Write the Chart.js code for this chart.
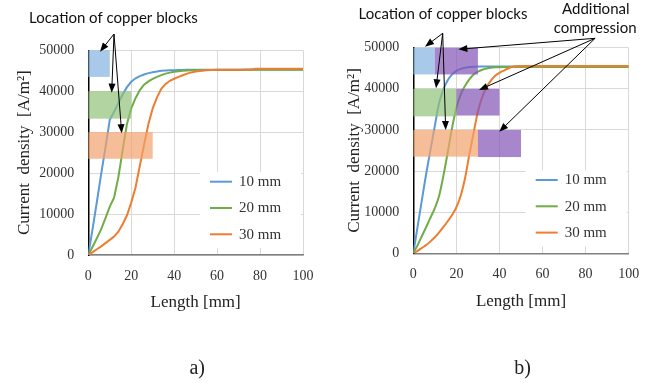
<!DOCTYPE html>
<html>
<head>
<meta charset="utf-8">
<script src="https://cdn.jsdelivr.net/npm/chart.js@4.4.1/dist/chart.umd.min.js"></script>
<style>
  body { margin: 0; background: #fff; }
  #wrap { position: relative; width: 661px; height: 383px; }
  canvas { position: absolute; top: 0; }
</style>
</head>
<body>
<div id="wrap">
  <canvas id="chartA" width="330" height="383" style="left:0"></canvas>
  <canvas id="chartB" width="331" height="383" style="left:330px"></canvas>
</div>
<script>
// --- data ---
const lengthMm = [0,2,4,6,8,10,12,14,16,18,20,22,24,26,28,30,32,34,36,38,40,42,44,46,48,50,55,60,70,76,78,90,100];

// a) copper blocks only
const a10 = [0,6400,13000,19800,26300,33000,35000,37100,39200,41000,42300,43150,43700,44100,44420,44650,44800,44980,45050,45100,45150,45180,45200,45220,45230,45240,45250,45260,45270,45280,45280,45290,45300];
const a20 = [0,2000,4100,6300,9000,11800,14000,19000,25600,32000,35800,38300,40300,41600,42400,43000,43500,43950,44300,44550,44750,44900,45000,45080,45130,45160,45190,45200,45210,45220,45220,45230,45240];
const a30 = [0,700,1400,2100,2900,3700,4500,5700,7500,9700,12800,16500,21800,27000,32000,35800,38500,40600,41800,42550,43050,43500,43900,44300,44600,44800,45100,45230,45240,45250,45470,45470,45480];

// b) copper blocks + additional compression
const b10 = [0,6500,13000,19400,25200,31000,36600,39900,42100,43500,44350,44850,45100,45300,45380,45400,45420,45430,45440,45440,45450,45450,45450,45450,45450,45450,45450,45450,45450,45450,45450,45450,45450];
const b20 = [0,2000,4200,6400,8700,11000,14000,18900,24600,30500,35400,38600,40700,42300,43500,44200,44650,44950,45150,45250,45270,45280,45280,45280,45280,45280,45280,45280,45280,45280,45280,45280,45280];
const b30 = [0,600,1300,2000,2900,3900,5100,6400,7800,9300,11200,14000,18200,24000,29300,34500,38000,40400,42000,43200,43900,44450,44950,45350,45500,45550,45560,45570,45570,45570,45570,45570,45570];

const seriesLabels = ['10 mm', '20 mm', '30 mm'];
const seriesColors = ['#5B9BD5', '#70AD47', '#ED7D31'];

// blocks: [x from, x to, y from, y to]
const copperBlocks = [[0,10,43500,50000],[0,20,33300,40000],[0,30,23500,30000]];
const compressionBlocks = [[10,30,43500,50000],[20,40,33500,40000],[30,50,23400,30000]];
const copperColors = ['rgba(132,178,226,0.7)', 'rgba(146,194,119,0.7)', 'rgba(242,162,108,0.7)'];
const compressionColor = 'rgba(131,82,182,0.7)';

// annotation arrows, in data units: [from x, from y, to x, to y]
const copperArrowsA = [[11.97,53980,5.45,49660],[11.97,53980,10.9,39640],[11.97,53980,15.56,29730]];
const copperArrowsB = [[13.65,53500,5.43,50240],[13.65,53500,10.54,40130],[13.65,53500,15.04,29990]];
const compressionArrowsB = [[84.4,52290,20.9,49610],[84.4,52290,30.5,39710],[84.4,52290,39.9,29570]];

const serif = '"Liberation Serif", "Times New Roman", serif';
const sans = 'Lato, "Liberation Sans", sans-serif';

function drawArrow(ctx, x1, y1, x2, y2) {
  const ang = Math.atan2(y2 - y1, x2 - x1);
  const L = 9, W = 3.5;
  const c = Math.cos(ang), s = Math.sin(ang);
  ctx.beginPath();
  ctx.moveTo(x1, y1);
  ctx.lineTo(x2 - L * 0.8 * c, y2 - L * 0.8 * s);
  ctx.stroke();
  ctx.beginPath();
  ctx.moveTo(x2, y2);
  ctx.lineTo(x2 - L * c + W * s, y2 - L * s - W * c);
  ctx.lineTo(x2 - L * c - W * s, y2 - L * s + W * c);
  ctx.closePath();
  ctx.fill();
}

function makeOverlay(opt) {
  return {
    id: 'overlay',
    beforeDatasetsDraw(chart) {
      // legend box inside the plot
      const { ctx, chartArea: a } = chart;
      ctx.save();
      ctx.fillStyle = '#fff';
      ctx.fillRect(a.right - 103, a.bottom - 83, 101, 76);
      ctx.font = '15px ' + serif;
      ctx.textBaseline = 'middle';
      ctx.textAlign = 'left';
      chart.data.datasets.forEach((ds, i) => {
        const y = a.bottom - 73.3 + i * 26.3;
        ctx.strokeStyle = ds.borderColor;
        ctx.lineWidth = 2;
        ctx.beginPath();
        ctx.moveTo(a.right - 93, y);
        ctx.lineTo(a.right - 71, y);
        ctx.stroke();
        ctx.fillStyle = '#333';
        ctx.fillText(ds.label, a.right - 64, y + 0.5);
      });
      ctx.restore();
    },
    afterDatasetsDraw(chart) {
      const { ctx } = chart;
      const xs = chart.scales.x, ys = chart.scales.y;
      const rect = (b, color) => {
        const x0 = xs.getPixelForValue(b[0]), x1 = xs.getPixelForValue(b[1]);
        const y0 = ys.getPixelForValue(b[2]), y1 = ys.getPixelForValue(b[3]);
        ctx.fillStyle = color;
        ctx.fillRect(x0, y1, x1 - x0, y0 - y1);
      };
      ctx.save();
      copperBlocks.forEach((b, i) => rect(b, copperColors[i]));
      if (opt.compression) compressionBlocks.forEach(b => rect(b, compressionColor));
      ctx.restore();
    },
    afterDraw(chart) {
      const { ctx, chartArea: a } = chart;
      const xs = chart.scales.x, ys = chart.scales.y;
      const px = v => xs.getPixelForValue(v), py = v => ys.getPixelForValue(v);
      ctx.save();
      ctx.strokeStyle = '#000';
      ctx.fillStyle = '#000';
      ctx.lineWidth = 1;
      opt.arrows.forEach(r => drawArrow(ctx, px(r[0]), py(r[1]), px(r[2]), py(r[3])));
      ctx.font = '15px ' + sans;
      ctx.textAlign = 'center';
      ctx.textBaseline = 'middle';
      ctx.fillStyle = '#111';
      opt.notes.forEach(n => ctx.fillText(n[0], px(n[1]), py(n[2])));
      ctx.font = '20px ' + serif;
      ctx.fillStyle = '#222';
      ctx.fillText(opt.caption, (a.left + a.right) / 2 + 1.5, 369);
      ctx.restore();
    }
  };
}

function buildChart(id, series, opt) {
  return new Chart(document.getElementById(id), {
    type: 'line',
    data: {
      datasets: series.map((s, i) => ({
        label: seriesLabels[i],
        data: lengthMm.map((x, k) => ({ x: x, y: s[k] })),
        borderColor: seriesColors[i],
        backgroundColor: seriesColors[i],
        borderWidth: 2,
        pointRadius: 0,
        fill: false,
        tension: opt.smooth ? 0.4 : 0,
        cubicInterpolationMode: opt.smooth ? 'monotone' : 'default',
        order: 3 - i
      }))
    },
    options: {
      responsive: false,
      animation: false,
      devicePixelRatio: 1,
      layout: { padding: opt.padding },
      plugins: { legend: { display: false }, tooltip: { enabled: false } },
      scales: {
        x: {
          type: 'linear', min: 0, max: 100,
          ticks: { stepSize: 20, padding: 13, color: '#333', maxRotation: 0, font: { family: serif, size: 14 } },
          grid: { color: '#d9d9d9', drawTicks: false },
          border: { color: '#7f7f7f', width: 1.5 },
          title: { display: true, text: 'Length [mm]', color: '#222', font: { family: serif, size: 17 }, padding: { top: 0, bottom: 2 } },
          afterFit(s) { s.height = 60; s.paddingLeft = 0; s.paddingRight = 0; }
        },
        y: {
          min: 0, max: 50000,
          ticks: { stepSize: 10000, padding: 14, color: '#333', font: { family: serif, size: 14 }, callback: v => String(v) },
          grid: { color: '#d9d9d9', drawTicks: false },
          border: { color: '#000', width: 1.5 },
          title: { display: true, text: 'Current  density  [A/m²]', color: '#222', font: { family: serif, size: 17 }, padding: { top: 14, bottom: 0 } },
          afterFit(s) { s.width = opt.yWidth; s.paddingTop = 0; s.paddingBottom = 0; }
        }
      }
    },
    plugins: [makeOverlay(opt)]
  });
}

buildChart('chartA', [a10, a20, a30], {
  padding: { top: 50.3, left: 0, right: 27, bottom: 68 },
  yWidth: 88.3,
  smooth: false,
  compression: false,
  arrows: copperArrowsA,
  notes: [['Location of copper blocks', 11.7, 57820]],
  caption: 'a)'
});

buildChart('chartB', [b10, b20, b30], {
  padding: { top: 47.7, left: 0, right: 32.3, bottom: 69.7 },
  yWidth: 83.3,
  smooth: true,
  compression: true,
  arrows: copperArrowsB.concat(compressionArrowsB),
  notes: [['Location of copper blocks', 13.8, 58200], ['Additional', 84.7, 59340], ['compression', 84.4, 54720]],
  caption: 'b)'
});
</script>
</body>
</html>
